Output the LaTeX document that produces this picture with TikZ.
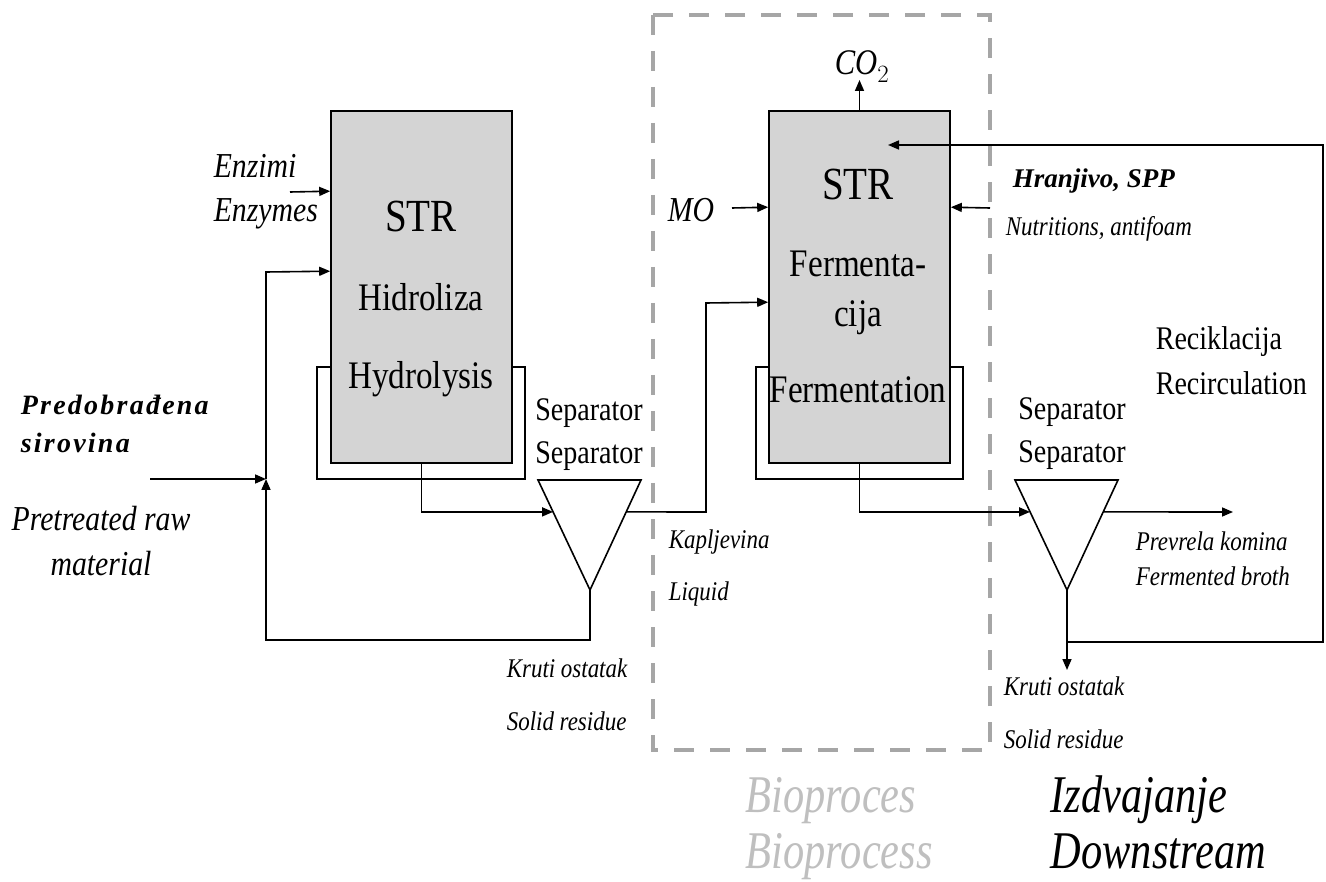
\documentclass[tikz,border=0pt]{standalone}
\usepackage{fontspec}
\setmainfont{Liberation Serif}[FakeStretch=0.85]
\newfontfamily\bifont{Liberation Serif}
\newfontfamily\bigfont{Liberation Serif}[FakeStretch=0.8]
\usetikzlibrary{arrows.meta,calc}
\newcommand\fsz[1]{\fontsize{#1}{#1}\selectfont}
\begin{document}
\begin{tikzpicture}[x=1pt,y=-1pt,line width=1.6pt,
  flow/.style={line width=1.6pt,-{Triangle[length=11pt,width=9pt]}},
  reactor/.style={draw,fill=black!17,line width=1.6pt,minimum width=181pt,minimum height=352pt,inner sep=0pt},
  txt/.style={inner sep=0pt,anchor=base},
  txtl/.style={inner sep=0pt,anchor=base west},
  bigR/.style={txt,font=\fsz{46}},
  medR/.style={txt,font=\fsz{39}},
  sepR/.style={txt,font=\fsz{33}},
  medI/.style={font=\fsz{35}\itshape},
  smI/.style={txtl,font=\fsz{27}\itshape},
  boldI/.style={txtl,font=\bifont\fsz{27}\bfseries\itshape},
  bottomI/.style={txtl,font=\bigfont\fsz{53}\itshape},
  region/.style={draw=black!35,line width=4.5pt,dash pattern=on 20pt off 16pt}]
\fill[white] (0,0) rectangle (1326,882);
\useasboundingbox (0,0) rectangle (1326,882);

% bioprocess region
\draw[region] (653,15) rectangle (990,750);

% jackets
\draw (331,367) -- (317,367) -- (317,479) -- (525,479) -- (525,367) -- (512,367);
\draw (769,367) -- (756,367) -- (756,479) -- (963,479) -- (963,367) -- (950,367);

% reactors
\node[reactor] (hyd) at (421.5,287) {};
\node[reactor] (ferm) at (859.5,287) {};

% separators
\coordinate (s1a) at (538,480);
\coordinate (s1b) at (641,480);
\coordinate (s1c) at (590,590);
\draw (s1a) -- (s1b) -- (s1c) -- cycle;
\coordinate (s2a) at (1015,480);
\coordinate (s2b) at (1118,480);
\coordinate (s2c) at (1067,590);
\draw (s2a) -- (s2b) -- (s2c) -- cycle;

% free ends
\coordinate (feedin) at (150,479);
\coordinate (enzin) at (290,192);
\coordinate (moin) at (732,208);
\coordinate (nutin) at (990,208);
\coordinate (co2out) at (859.5,80);
\coordinate (brothout) at (1233,512);
\coordinate (solid2) at (1067,670);
\coordinate (recin) at (888,145);
\coordinate (junc1) at (266,479);

% connectors
\draw[flow] (feedin) -- (junc1);
\draw[flow] (s1c) |- (266,640) -- (junc1);
\draw[flow] (junc1) -- (266,272) -- ([yshift=-161pt]hyd.north west);
\draw[flow] (enzin) -- ([yshift=-81pt]hyd.north west);
\draw[flow] (hyd.south) |- ($(s1a)!0.29!(s1c)$);
\draw[flow] ($(s1b)!0.29!(s1c)$) -- (706,512) -- (706,303) -- ([yshift=-192pt]ferm.north west);
\draw[flow] (moin) -- ([yshift=-97pt]ferm.north west);
\draw[flow] (nutin) -- ([yshift=-97pt]ferm.north east);
\draw[flow] (ferm.north) -- (co2out);
\draw[flow] (ferm.south) |- ($(s2a)!0.29!(s2c)$);
\draw[flow] ($(s2b)!0.29!(s2c)$) -- (brothout);
\draw[flow] (s2c) -- (solid2);
\draw[flow] (1067,642) -- (1323,642) -- (1323,145) -- (recin);

% reactor texts
\node[bigR] (t1) at (421,232) {STR};
\node[medR] (t2) at (421,311) {Hidroliza};
\node[medR] (t3) at (421,389) {Hydrolysis};
\node[bigR] (t4) at (858,200) {STR};
\node[medR] (t5) at (858,277) {Fermenta-};
\node[medR] (t6) at (858,327) {cija};
\node[medR] (t7) at (858,403) {Fermentation};

% separator texts
\node[sepR] (t8) at (589,421) {Separator};
\node[sepR] (t9) at (589,464) {Separator};
\node[sepR] (t10) at (1072,420) {Separator};
\node[sepR] (t11) at (1072,463) {Separator};
\node[sepR,anchor=base west] (t12) at (1155,350) {Reciklacija};
\node[sepR,anchor=base west] (t13) at (1155,395) {Recirculation};

% input labels
\node[txtl,medI] (t14) at (213,178) {Enzimi};
\node[txtl,medI] (t15) at (213,222) {Enzymes};
\node[txt,medI] (t16) at (691,222) {MO};
\node[txt,font=\fsz{36}\itshape] (t17) at (862,75) {CO$_2$};
\node[boldI,font=\bifont\fsz{28}\bfseries\itshape\addfontfeature{LetterSpace=8}] (t18) at (20,415) {Predobrađena};
\node[boldI,font=\bifont\fsz{28}\bfseries\itshape\addfontfeature{LetterSpace=8}] (t19) at (20,453) {sirovina};
\node[txt,medI] (t20) at (101,530) {Pretreated raw};
\node[txt,medI] (t21) at (101,575) {material};
\node[boldI] (t22) at (1012,188) {Hranjivo, SPP};
\node[smI] (t23) at (1005,236) {Nutritions, antifoam};

% output labels
\node[smI] (t24) at (668,548) {Kapljevina};
\node[smI] (t25) at (668,600) {Liquid};
\node[smI] (t26) at (506,677) {Kruti ostatak};
\node[smI] (t27) at (506,730) {Solid residue};
\node[smI] (t28) at (1003,695) {Kruti ostatak};
\node[smI] (t29) at (1003,748) {Solid residue};
\node[smI] (t30) at (1135,550) {Prevrela komina};
\node[smI] (t31) at (1135,585) {Fermented broth};

% region titles
\node[bottomI,text=black!25] (t32) at (745,812) {Bioproces};
\node[bottomI,text=black!25] (t33) at (745,868) {Bioprocess};
\node[bottomI] (t34) at (1050,812) {Izdvajanje};
\node[bottomI] (t35) at (1050,868) {Downstream};
\end{tikzpicture}
\end{document}
